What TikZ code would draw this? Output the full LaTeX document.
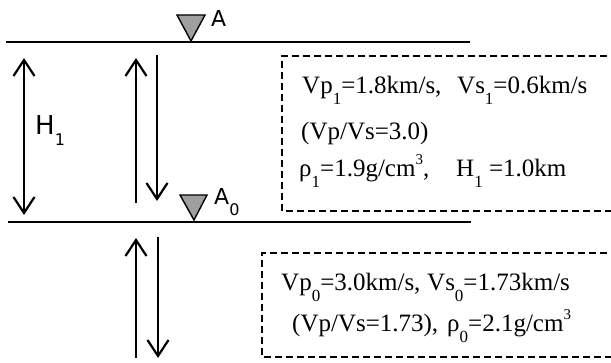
\documentclass[tikz,border=0pt]{standalone}
\usepackage{fontspec}
\setmainfont{Liberation Serif}
\newfontfamily\labelfont{DejaVu Sans}
\usetikzlibrary{arrows.meta}
\newcommand\lowsub[1]{\raisebox{-11pt}{\fontsize{17}{17}\selectfont #1}}
\newcommand\highsup[1]{\raisebox{12pt}{\fontsize{15}{15}\selectfont #1}}
\newcommand\lblsub[1]{\raisebox{-11pt}{\fontsize{16}{16}\selectfont #1}}
\tikzset{
  layer/.style={line width=2.2pt},
  station/.style={draw, line width=1.4pt, fill=gray!75, line join=miter},
  wave/.style={-{Straight Barb[length=16pt,width=21pt,line width=2.2pt]}, line width=2.3pt},
  dualwave/.style={{Straight Barb[length=16pt,width=21pt,line width=2.2pt]}-{Straight Barb[length=16pt,width=21pt,line width=2.2pt]}, line width=2.3pt},
  infobox/.style={draw, dash pattern=on 7pt off 4pt, line width=1.2pt},
  param/.style={anchor=base west, inner sep=0pt, font=\fontsize{25}{25}\selectfont},
  tag/.style={anchor=base west, inner sep=0pt, font=\labelfont\fontsize{22}{22}\selectfont},
  bigtag/.style={tag, font=\labelfont\fontsize{26}{26}\selectfont}
}
\begin{document}
\begin{tikzpicture}[x=1pt,y=-1pt]
  \useasboundingbox (0,0) rectangle (611,363);
  \clip (0,0) rectangle (611,363);
  % surfaces
  \coordinate (surfL) at (6,42);
  \coordinate (surfR) at (470,42);
  \coordinate (baseL) at (8,222);
  \coordinate (baseR) at (471,222);
  \draw[layer] (surfL) -- (surfR);
  \draw[layer] (baseL) -- (baseR);
  % receivers
  \draw[station] (191,41) -- (177,15) -- (205,15) -- cycle;
  \draw[station] (194,220) -- (180,195) -- (207,195) -- cycle;
  \node[tag] (recA) at (211,27) {A};
  \node[tag] (recAzero) at (214,205) {A\lblsub{0}};
  % thickness
  \coordinate (thickTop) at (24,58);
  \coordinate (thickBot) at (24,215);
  \draw[dualwave] (thickTop) -- (thickBot);
  \node[bigtag] (thick) at (35,135) {H\lblsub{1}};
  % rays in layer 1
  \coordinate (upA) at (136,203);
  \coordinate (upB) at (136,58);
  \coordinate (dnA) at (157,55);
  \coordinate (dnB) at (157,201);
  \draw[wave] (upA) -- (upB);
  \draw[wave] (dnA) -- (dnB);
  % rays in half-space
  \coordinate (upC) at (136,358);
  \coordinate (upD) at (136,238);
  \coordinate (dnC) at (158,237);
  \coordinate (dnD) at (158,358);
  \draw[wave] (upC) -- (upD);
  \draw[wave] (dnC) -- (dnD);
  % parameter boxes
  \draw[infobox] (640,56) -- (282,56) -- (282,211) -- (640,211);
  \draw[infobox] (640,253) -- (262,253) -- (262,357) -- (640,357);
  \node[param] (vone) at (302,94) {Vp\lowsub{1}=1.8km/s,};
  \node[param] (vsone) at (457,94) {Vs\lowsub{1}=0.6km/s};
  \node[param] (ratioone) at (301,140) {(Vp/Vs=3.0)};
  \node[param] (rhoone) at (299,177) {ρ\lowsub{1}=1.9g/cm\highsup{3},};
  \node[param] (hone) at (456,177) {H\lowsub{1} =1.0km};
  \node[param] (vzero) at (281,291) {Vp\lowsub{0}=3.0km/s,};
  \node[param] (vszero) at (427,291) {Vs\lowsub{0}=1.73km/s};
  \node[param] (ratiozero) at (292,332) {(Vp/Vs=1.73),};
  \node[param] (rhozero) at (447,332) {ρ\lowsub{0}=2.1g/cm\highsup{3}};
\end{tikzpicture}
\end{document}
